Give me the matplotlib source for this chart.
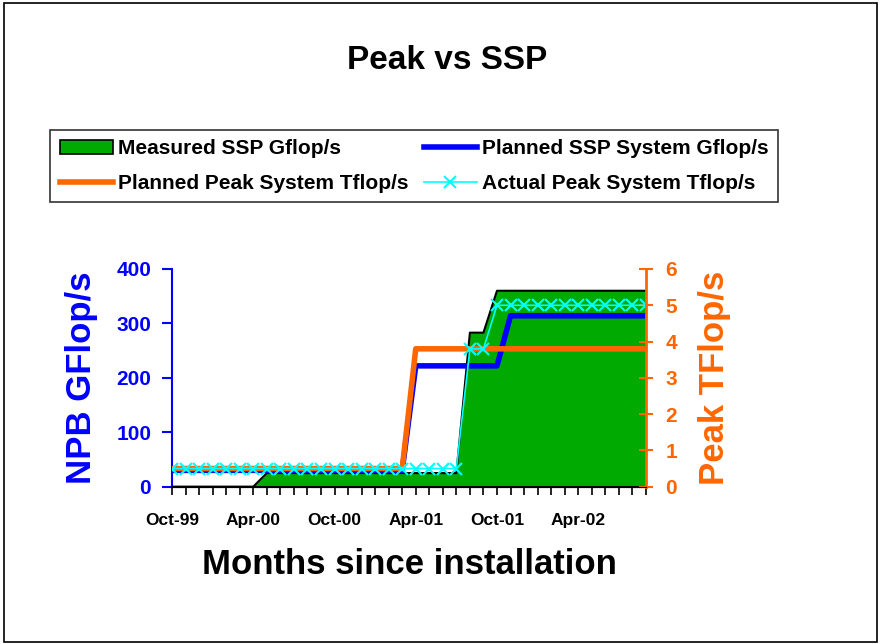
import numpy as np
import matplotlib.pyplot as plt
from matplotlib.patches import Patch, Rectangle
from matplotlib.lines import Line2D

plt.rcParams["font.family"] = ["Liberation Sans", "DejaVu Sans"]
plt.rcParams["font.weight"] = "bold"

# monthly points, Oct-99 .. Sep-02
months = ["Oct-99", "Nov-99", "Dec-99", "Jan-00", "Feb-00", "Mar-00",
          "Apr-00", "May-00", "Jun-00", "Jul-00", "Aug-00", "Sep-00",
          "Oct-00", "Nov-00", "Dec-00", "Jan-01", "Feb-01", "Mar-01",
          "Apr-01", "May-01", "Jun-01", "Jul-01", "Aug-01", "Sep-01",
          "Oct-01", "Nov-01", "Dec-01", "Jan-02", "Feb-02", "Mar-02",
          "Apr-02", "May-02", "Jun-02", "Jul-02", "Aug-02", "Sep-02"]
tick_labels = ["Oct-99", "Apr-00", "Oct-00", "Apr-01", "Oct-01", "Apr-02"]

measured_ssp = [0] * 7 + [25] * 15 + [283, 283] + [360] * 12
planned_ssp = [30] * 18 + [222] * 7 + [314] * 11
planned_peak = [0.5] * 18 + [3.8] * 18
actual_peak = [0.5] * 22 + [3.8, 3.8] + [5.0] * 12

GREEN = "#00AA00"
BLUE = "#0000FF"
ORANGE = "#FF6600"
CYAN = "#00FFFF"

x = np.arange(len(months))

fig = plt.figure(figsize=(8.8, 6.44), dpi=100)
ax = fig.add_axes([0.1955, 0.2443, 0.5385, 0.338])
ax2 = ax.twinx()

ax.fill_between(x, measured_ssp, color=GREEN, lw=0)
ax.plot(x, measured_ssp, color="black", lw=1.5)
ax.plot(x, planned_ssp, color=BLUE, lw=4, solid_capstyle="butt")

ax2.plot(x, planned_peak, color=ORANGE, lw=4, solid_capstyle="butt")
ax2.plot(x, actual_peak, color=CYAN, lw=1.2, marker="x", ms=8, mew=1.5)

ax.set_xlim(0, len(months) - 1)
ax.set_ylim(0, 400)
ax2.set_ylim(0, 6)

ax.set_yticks([0, 100, 200, 300, 400])
ax2.set_yticks(range(7))
ax.set_xticks(x, minor=True)
ax.set_xticks([months.index(m) for m in tick_labels])
ax.set_xticklabels(tick_labels)

for a in (ax, ax2):
    a.spines["top"].set_visible(False)
ax.spines["left"].set_color(BLUE)
ax.spines["left"].set_linewidth(1.5)
ax2.spines["right"].set_color(ORANGE)
ax2.spines["right"].set_linewidth(2)
ax2.spines["left"].set_visible(False)
ax.spines["right"].set_visible(False)
ax.spines["bottom"].set_linewidth(1.5)

ax.tick_params(axis="y", colors=BLUE, labelsize=15, length=7, width=1.5, pad=8)
ax2.tick_params(axis="y", colors=ORANGE, labelsize=15, length=10, width=1.5,
                direction="inout", pad=9)
ax.tick_params(axis="x", which="both", length=6, width=1.2, labelsize=12.5, pad=13)
for lab in ax.get_yticklabels() + ax2.get_yticklabels() + ax.get_xticklabels():
    lab.set_fontweight("bold")

ax.set_ylabel("NPB GFlop/s", color=BLUE, fontsize=25, fontweight="bold", labelpad=13)
ax2.set_ylabel("Peak TFlop/s", color=ORANGE, fontsize=25, fontweight="bold", labelpad=15)
ax.set_xlabel("Months since installation", fontsize=25, fontweight="bold", labelpad=14)

fig.text(0.508, 0.906, "Peak vs SSP", ha="center", va="center",
         fontsize=24, fontweight="bold")

handles = [
    Patch(facecolor=GREEN, edgecolor="black", lw=1.2),
    Line2D([], [], color=ORANGE, lw=4),
    Line2D([], [], color=BLUE, lw=4),
    Line2D([], [], color=CYAN, lw=1.2, marker="x", ms=8, mew=1.5),
]
labels = ["Measured SSP Gflop/s", "Planned Peak System Tflop/s",
          "Planned SSP System Gflop/s", "Actual Peak System Tflop/s"]
leg = fig.legend(handles, labels, ncol=2, loc="upper left",
                 bbox_to_anchor=(0.057, 0.682, 0.827, 0.116), mode="expand",
                 frameon=True, fancybox=False, edgecolor="black",
                 prop={"size": 15, "weight": "bold"}, handlelength=2.55,
                 handletextpad=0.25, columnspacing=0.3, borderaxespad=0,
                 borderpad=0.45, labelspacing=0.75)
leg.get_frame().set_linewidth(1.2)

fig.patches.append(Rectangle((0.004, 0.003), 0.993, 0.993, transform=fig.transFigure,
                             fill=False, edgecolor="black", lw=1.2))

fig.savefig("out.png", dpi=100)
